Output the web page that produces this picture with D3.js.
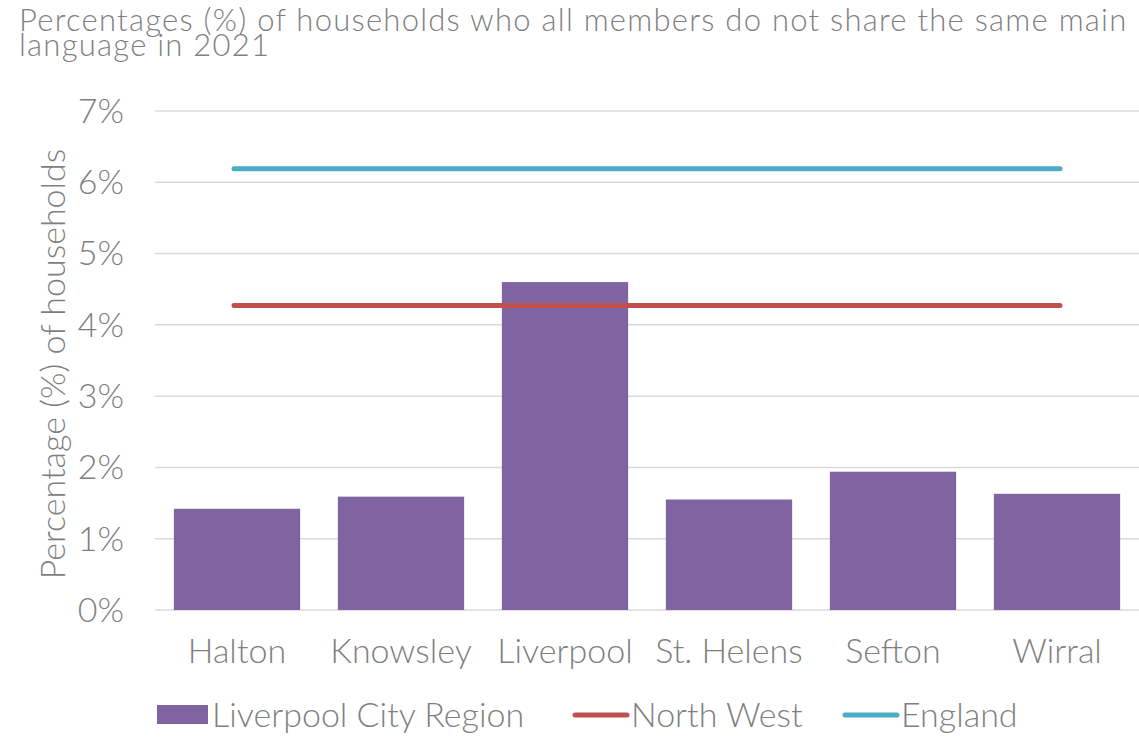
<!DOCTYPE html>
<html>
<head>
<meta charset="utf-8">
<script src="https://cdn.jsdelivr.net/npm/d3@7"></script>
<style>
  body { margin: 0; background: #fff; }
  text { font-family: Lato, "Noto Sans", sans-serif; font-weight: 300; fill: #7f7f7f; }
</style>
</head>
<body>
<svg id="chart" width="1139" height="742"></svg>
<script>
// data
const areas = ['Halton', 'Knowsley', 'Liverpool', 'St. Helens', 'Sefton', 'Wirral']
const lcrValues = [1.42, 1.59, 4.6, 1.55, 1.94, 1.63]
const northWest = 4.27
const england = 6.19
const yTicks = [0, 1, 2, 3, 4, 5, 6, 7]
const titleLines = ['Percentages (%) of households who all members do not share the same main', 'language in 2021']

const svg = d3.select('#chart')
const margin = { left: 155, right: 0, top: 111, bottom: 132 }
const W = 1139, H = 742
const fs = 34

const x = d3.scaleBand()
  .domain(areas)
  .range([margin.left, W - margin.right])
  .paddingInner(0.23)
  .paddingOuter(0.115)

const y = d3.scaleLinear()
  .domain([0, 7])
  .range([H - margin.bottom, margin.top])

// title (two tight lines, as in the original)
svg.append('text')
  .attr('x', 19)
  .attr('font-size', 31)
  .attr('letter-spacing', 1.25)
  .selectAll('tspan')
  .data(titleLines)
  .enter()
  .append('tspan')
  .attr('x', 19)
  .attr('y', (d, i) => 31 + i * 25)
  .text(d => d)

// gridlines
svg.append('g')
  .selectAll('line')
  .data(yTicks)
  .enter()
  .append('line')
  .attr('x1', margin.left)
  .attr('x2', W)
  .attr('y1', d => y(d))
  .attr('y2', d => y(d))
  .attr('stroke', '#d9d9d9')
  .attr('stroke-width', 1.5)

// y tick labels
svg.append('g')
  .selectAll('text')
  .data(yTicks)
  .enter()
  .append('text')
  .attr('x', 124)
  .attr('y', d => y(d))
  .attr('dy', '0.35em')
  .attr('text-anchor', 'end')
  .attr('font-size', fs)
  .text(d => d + '%')

// y axis title
svg.append('text')
  .attr('transform', 'translate(65,' + y(3.45) + ') rotate(-90)')
  .attr('text-anchor', 'middle')
  .attr('font-size', fs)
  .text('Percentage (%) of households')

// bars
svg.append('g')
  .selectAll('rect')
  .data(lcrValues)
  .enter()
  .append('rect')
  .attr('x', (d, i) => x(areas[i]))
  .attr('width', x.bandwidth())
  .attr('y', d => y(d))
  .attr('height', d => y(0) - y(d))
  .attr('fill', '#8064a2')

// reference lines from first to last category centre
const cx = a => x(a) + x.bandwidth() / 2
const refLines = [
  { v: northWest, color: '#c0504d' },
  { v: england, color: '#4bacc6' }
]
svg.append('g')
  .selectAll('line')
  .data(refLines)
  .enter()
  .append('line')
  .attr('x1', cx(areas[0]) - 3)
  .attr('x2', cx(areas[areas.length - 1]) + 3)
  .attr('y1', d => y(d.v))
  .attr('y2', d => y(d.v))
  .attr('stroke', d => d.color)
  .attr('stroke-width', 5)
  .attr('stroke-linecap', 'round')

// category labels
svg.append('g')
  .selectAll('text')
  .data(areas)
  .enter()
  .append('text')
  .attr('x', d => cx(d))
  .attr('y', 663)
  .attr('text-anchor', 'middle')
  .attr('font-size', fs)
  .text(d => d)

// legend
const legend = svg.append('g').attr('transform', 'translate(0,715)')
legend.append('rect')
  .attr('x', 157).attr('y', -10).attr('width', 51).attr('height', 19)
  .attr('fill', '#8064a2')
legend.append('text').attr('x', 212).attr('y', 0).attr('dy', '0.35em')
  .attr('font-size', fs).text('Liverpool City Region')
legend.append('line')
  .attr('x1', 575).attr('x2', 627).attr('y1', 0).attr('y2', 0)
  .attr('stroke', '#c0504d').attr('stroke-width', 5).attr('stroke-linecap', 'round')
legend.append('text').attr('x', 631).attr('y', 0).attr('dy', '0.35em')
  .attr('font-size', fs).text('North West')
legend.append('line')
  .attr('x1', 845).attr('x2', 897).attr('y1', 0).attr('y2', 0)
  .attr('stroke', '#4bacc6').attr('stroke-width', 5).attr('stroke-linecap', 'round')
legend.append('text').attr('x', 901).attr('y', 0).attr('dy', '0.35em')
  .attr('font-size', fs).text('England')
</script>
</body>
</html>
